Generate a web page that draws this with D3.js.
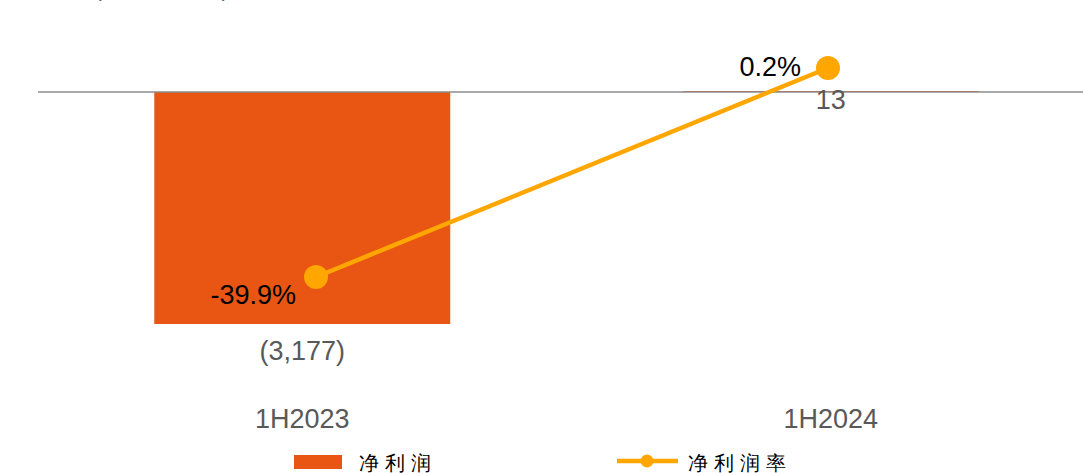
<!DOCTYPE html>
<html>
<head>
<meta charset="utf-8">
<script src="https://cdn.jsdelivr.net/npm/d3@7"></script>
<style>
  body { margin: 0; background: #fff; }
  text { font-family: Arial, "Liberation Sans", sans-serif; }
</style>
</head>
<body>
<script>
var width = 1083,
  height = 473;

// data
const periods = ["1H2023", "1H2024"];
const netProfit = [-3177, 13];
const netProfitLabels = ["(3,177)", "13"];
const netMargin = [-39.9, 0.2];
const marginLabels = ["-39.9%", "0.2%"];
const legendNames = ["净利润", "净利润率"];

const barColor = "#E95513",
  lineColor = "#FFA600";

const svg = d3
  .select("body")
  .append("svg")
  .attr("width", width)
  .attr("height", height);

// unit label, mostly cut off at top edge
svg
  .append("text")
  .attr("x", 95)
  .attr("y", -3)
  .attr("font-size", 20)
  .attr("fill", "#595959")
  .attr("font-family", "'Noto Sans CJK SC', sans-serif")
  .text("(人民币百万元)");

const x = d3.scaleBand().domain(periods).range([38, 1095]).paddingInner(0.44).paddingOuter(0.22);

const y = d3.scaleLinear().domain([-3177, 0]).range([324, 92]);

// secondary scale for margin line
const xl = d3.scalePoint().domain(periods).range([316, 828]);
const yl = d3.scaleLinear().domain([-39.9, 0.2]).range([277, 68]);

// bars
svg
  .selectAll("rect.bar")
  .data(periods)
  .enter()
  .append("rect")
  .attr("class", "bar")
  .attr("x", (d) => x(d))
  .attr("width", x.bandwidth())
  .attr("y", (d, i) => Math.min(y(netProfit[i]), y(0)))
  .attr("height", (d, i) => Math.abs(y(netProfit[i]) - y(0)))
  .attr("fill", barColor);

// zero line
svg
  .append("line")
  .attr("x1", 38)
  .attr("x2", width)
  .attr("y1", y(0))
  .attr("y2", y(0))
  .attr("stroke", "#8c8c8c")
  .attr("stroke-width", 1.5);

// bar value labels
svg
  .selectAll("text.val")
  .data(periods)
  .enter()
  .append("text")
  .attr("class", "val")
  .attr("x", (d) => x(d) + x.bandwidth() / 2)
  .attr("y", (d, i) => (netProfit[i] < 0 ? y(netProfit[i]) + 36 : y(0) + 17))
  .attr("text-anchor", "middle")
  .attr("font-size", 27)
  .attr("fill", "#595959")
  .text((d, i) => netProfitLabels[i]);

// category labels
svg
  .selectAll("text.cat")
  .data(periods)
  .enter()
  .append("text")
  .attr("class", "cat")
  .attr("x", (d) => x(d) + x.bandwidth() / 2)
  .attr("y", 428)
  .attr("text-anchor", "middle")
  .attr("font-size", 27)
  .attr("fill", "#595959")
  .text((d) => d);

// margin line
const line = d3
  .line()
  .x((d, i) => xl(periods[i]))
  .y((d) => yl(d));

svg
  .append("path")
  .datum(netMargin)
  .attr("d", line)
  .attr("fill", "none")
  .attr("stroke", lineColor)
  .attr("stroke-width", 4.5);

svg
  .selectAll("circle.pt")
  .data(netMargin)
  .enter()
  .append("circle")
  .attr("class", "pt")
  .attr("cx", (d, i) => xl(periods[i]))
  .attr("cy", (d) => yl(d))
  .attr("r", 12)
  .attr("fill", lineColor);

svg
  .selectAll("text.pct")
  .data(netMargin)
  .enter()
  .append("text")
  .attr("class", "pct")
  .attr("x", (d, i) => xl(periods[i]) - (d > 0 ? 27 : 20))
  .attr("y", (d) => yl(d) + (d > 0 ? 8 : 27))
  .attr("text-anchor", "end")
  .attr("font-size", 27)
  .attr("fill", "#000")
  .text((d, i) => marginLabels[i]);

// legend
const lg = svg.append("g").attr("font-family", "'Noto Sans CJK SC', sans-serif");
lg.append("rect")
  .attr("x", 294)
  .attr("y", 455)
  .attr("width", 48)
  .attr("height", 14)
  .attr("fill", barColor);
lg.append("text")
  .attr("x", 359)
  .attr("y", 470)
  .attr("font-size", 20)
  .attr("letter-spacing", 6)
  .attr("fill", "#000")
  .text(legendNames[0]);

lg.append("line")
  .attr("x1", 617)
  .attr("x2", 678)
  .attr("y1", 461)
  .attr("y2", 461)
  .attr("stroke", lineColor)
  .attr("stroke-width", 4.5);
lg.append("circle")
  .attr("cx", 647)
  .attr("cy", 461)
  .attr("r", 6.5)
  .attr("fill", lineColor);
lg.append("text")
  .attr("x", 688)
  .attr("y", 470)
  .attr("font-size", 20)
  .attr("letter-spacing", 6)
  .attr("fill", "#000")
  .text(legendNames[1]);
</script>
</body>
</html>
